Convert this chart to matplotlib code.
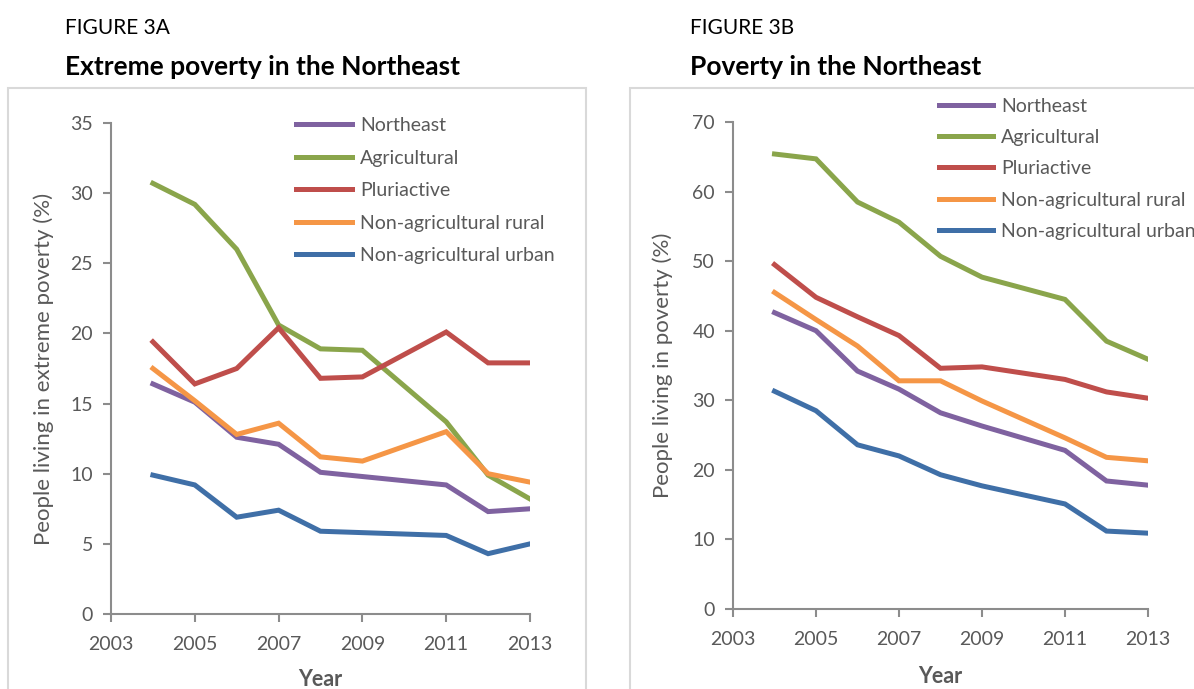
import matplotlib.pyplot as plt
from matplotlib.patches import Rectangle

years = [2004, 2005, 2006, 2007, 2008, 2009, 2011, 2012, 2013]
labels = ["Northeast", "Agricultural", "Pluriactive",
          "Non-agricultural rural", "Non-agricultural urban"]
colors = ["#7f62a0", "#8aa54b", "#bf4e4b", "#f59646", "#3f6fa7"]

# Figure 3A: extreme poverty (%)
ext_northeast = [16.4, 15.1, 12.6, 12.1, 10.1, 9.8, 9.2, 7.3, 7.5]
ext_agricultural = [30.7, 29.2, 26.0, 20.6, 18.9, 18.8, 13.7, 9.9, 8.2]
ext_pluriactive = [19.4, 16.4, 17.5, 20.4, 16.8, 16.9, 20.1, 17.9, 17.9]
ext_nonag_rural = [17.5, 15.2, 12.8, 13.6, 11.2, 10.9, 13.0, 10.0, 9.4]
ext_nonag_urban = [9.9, 9.2, 6.9, 7.4, 5.9, 5.8, 5.6, 4.3, 5.0]

# Figure 3B: poverty (%)
pov_northeast = [42.6, 40.0, 34.2, 31.6, 28.2, 26.3, 22.8, 18.4, 17.8]
pov_agricultural = [65.4, 64.7, 58.5, 55.6, 50.7, 47.7, 44.5, 38.5, 35.9]
pov_pluriactive = [49.5, 44.8, 42.0, 39.3, 34.6, 34.8, 33.0, 31.2, 30.3]
pov_nonag_rural = [45.5, 41.6, 37.8, 32.8, 32.8, 29.9, 24.6, 21.8, 21.3]
pov_nonag_urban = [31.3, 28.5, 23.6, 22.0, 19.3, 17.7, 15.1, 11.2, 10.9]

xticks = [2003, 2005, 2007, 2009, 2011, 2013]

plt.rcParams['font.family'] = ['Lato', 'DejaVu Sans']
W, H = 1194, 689
fig = plt.figure(figsize=(W / 100, H / 100), dpi=100)
fig.patch.set_facecolor('white')

def px(x, y, w, h):
    return [x / W, 1 - (y + h) / H, w / W, h / H]

# panel frames
fig.add_artist(Rectangle((8 / W, -0.01), 578 / W, 1 - 88 / H + 0.01,
                         transform=fig.transFigure, fill=False,
                         edgecolor='#d9d9d9', lw=1.5))
fig.add_artist(Rectangle((630 / W, -0.01), 580 / W, 1 - 88 / H + 0.01,
                         transform=fig.transFigure, fill=False,
                         edgecolor='#d9d9d9', lw=1.5))

fig.text(65 / W, 1 - 28 / H, "FIGURE 3A", fontsize=15, va='center', color='black')
fig.text(65 / W, 1 - 67 / H, "Extreme poverty in the Northeast", fontsize=19,
         fontweight='bold', va='center', color='black')
fig.text(690 / W, 1 - 28 / H, "FIGURE 3B", fontsize=15, va='center', color='black')
fig.text(690 / W, 1 - 67 / H, "Poverty in the Northeast", fontsize=19,
         fontweight='bold', va='center', color='black')

def style(ax, ymax, ystep, ylabel, ylpad, xlpad):
    ax.set_xlim(2003, 2013)
    ax.set_ylim(0, ymax)
    ax.set_xticks(xticks)
    ax.set_yticks(range(0, ymax + 1, ystep))
    for s in ['top', 'right']:
        ax.spines[s].set_visible(False)
    for s in ['left', 'bottom']:
        ax.spines[s].set_color('#8c8c8c')
        ax.spines[s].set_linewidth(1.5)
    ax.tick_params(direction='out', length=6, width=1.5, color='#8c8c8c',
                   labelcolor='#595959', labelsize=14, pad=7)
    ax.tick_params(axis='x', pad=10)
    ax.set_ylabel(ylabel, fontsize=16, color='#595959', labelpad=ylpad)
    ax.set_xlabel("Year", fontsize=15.5, color='#595959', fontweight='bold', labelpad=xlpad)
    ax.patch.set_alpha(0)

axA = fig.add_axes(px(111, 123, 419, 491))
seriesA = [ext_northeast, ext_agricultural, ext_pluriactive, ext_nonag_rural, ext_nonag_urban]
for vals, lab, c in zip(seriesA, labels, colors):
    axA.plot(years, vals, color=c, lw=3.6, label=lab, solid_joinstyle='miter')
style(axA, 35, 5, "People living in extreme poverty (%)", 12, 11)
axA.legend(loc='upper left', bbox_to_anchor=(296 / W, 1 - 117 / H),
           bbox_transform=fig.transFigure, frameon=False, fontsize=14,
           handlelength=2.9, handletextpad=0.4, labelspacing=0.80,
           borderpad=0, borderaxespad=0, labelcolor='#595959')

axB = fig.add_axes(px(733, 122, 415, 487))
seriesB = [pov_northeast, pov_agricultural, pov_pluriactive, pov_nonag_rural, pov_nonag_urban]
for vals, lab, c in zip(seriesB, labels, colors):
    axB.plot(years, vals, color=c, lw=3.6, label=lab, solid_joinstyle='miter')
style(axB, 70, 10, "People living in poverty (%)", 14, 13)
axB.legend(loc='upper left', bbox_to_anchor=(939 / W, 1 - 97.5 / H),
           bbox_transform=fig.transFigure, frameon=False, fontsize=14,
           handlelength=2.8, handletextpad=0.4, labelspacing=0.74,
           borderpad=0, borderaxespad=0, labelcolor='#595959')

fig.savefig("out.png", dpi=100)
